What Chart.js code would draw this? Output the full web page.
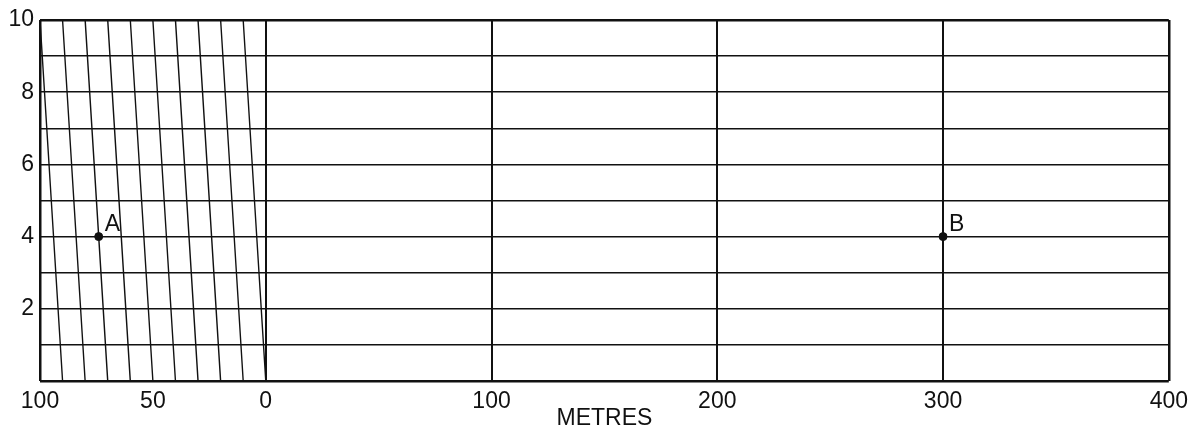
<!DOCTYPE html>
<html>
<head>
<meta charset="utf-8">
<script src="https://cdn.jsdelivr.net/npm/chart.js@4/dist/chart.umd.min.js"></script>
<style>
  html, body { margin: 0; padding: 0; background: #fff; }
  #wrap { width: 1195px; height: 433px; position: relative; }
</style>
</head>
<body>
<div id="wrap"><canvas id="c"></canvas></div>
<script>
// ---- data ----
const xTickValues = [-100, -50, 0, 100, 200, 300, 400];
const xGridValues = [-100, 0, 100, 200, 300, 400];
const yLabelValues = [2, 4, 6, 8, 10];
const diagTopX = [-100, -90, -80, -70, -60, -50, -40, -30, -20, -10];
const diagBottomX = [-90, -80, -70, -60, -50, -40, -30, -20, -10, 0];
const diagTopY = 10;
const diagBottomY = 0;
const pointNames = ['A', 'B'];
const pointX = [-74, 300];
const pointY = [4, 4];
const axisTitle = 'METRES';

const FONT = '"Liberation Sans", Arial, Helvetica, sans-serif';

const datasets = [];
diagTopX.forEach((t, i) => {
  datasets.push({
    type: 'line',
    data: [{ x: t, y: diagTopY }, { x: diagBottomX[i], y: diagBottomY }],
    borderColor: '#111',
    borderWidth: 1.4,
    pointRadius: 0,
    fill: false,
    tension: 0
  });
});
datasets.push({
  type: 'scatter',
  data: pointX.map((x, i) => ({ x: x, y: pointY[i] })),
  backgroundColor: '#111',
  borderColor: '#111',
  pointRadius: 4,
  pointHoverRadius: 4
});

const labelPlugin = {
  id: 'pointNames',
  afterDatasetsDraw(chart) {
    const meta = chart.getDatasetMeta(chart.data.datasets.length - 1);
    const ctx = chart.ctx;
    ctx.save();
    ctx.fillStyle = '#111';
    ctx.font = '23px ' + FONT;
    ctx.textAlign = 'left';
    ctx.textBaseline = 'alphabetic';
    meta.data.forEach((el, i) => {
      ctx.fillText(pointNames[i], el.x + 6, el.y - 6);
    });
    ctx.restore();
  }
};

new Chart(document.getElementById('c'), {
  type: 'scatter',
  data: { datasets: datasets },
  plugins: [labelPlugin],
  options: {
    responsive: true,
    maintainAspectRatio: false,
    animation: false,
    events: [],
    layout: { padding: { top: 20, right: 26, left: 0, bottom: 0 } },
    plugins: { legend: { display: false }, tooltip: { enabled: false } },
    scales: {
      x: {
        type: 'linear',
        min: -100,
        max: 400,
        afterBuildTicks(scale) { scale.ticks = xTickValues.map(v => ({ value: v })); },
        afterFit(scale) { scale.height = 52; },
        border: { display: false },
        grid: {
          drawTicks: false,
          color(ctx) {
            const v = ctx.tick && ctx.tick.value;
            return xGridValues.includes(v) ? '#111' : 'rgba(0,0,0,0)';
          },
          lineWidth(ctx) {
            const v = ctx.tick && ctx.tick.value;
            return (v === -100 || v === 400) ? 2.5 : 2;
          }
        },
        ticks: {
          autoSkip: false,
          maxRotation: 0,
          minRotation: 0,
          padding: 7,
          color: '#111',
          font: { family: FONT, size: 23 },
          callback: (v) => String(Math.abs(v))
        },
        title: {
          display: true,
          text: axisTitle,
          color: '#111',
          font: { family: FONT, size: 23 },
          padding: { top: 0, bottom: 1 }
        }
      },
      y: {
        type: 'linear',
        min: 0,
        max: 10,
        afterFit(scale) { scale.width = 40; },
        border: { display: false },
        grid: {
          drawTicks: false,
          color: '#111',
          lineWidth(ctx) {
            const v = ctx.tick && ctx.tick.value;
            return (v === 0 || v === 10) ? 2.5 : 1.4;
          }
        },
        ticks: {
          stepSize: 1,
          autoSkip: false,
          padding: 6,
          color: '#111',
          font: { family: FONT, size: 23 },
          callback: (v) => yLabelValues.includes(v) ? String(v) : ''
        }
      }
    }
  }
});
</script>
</body>
</html>
